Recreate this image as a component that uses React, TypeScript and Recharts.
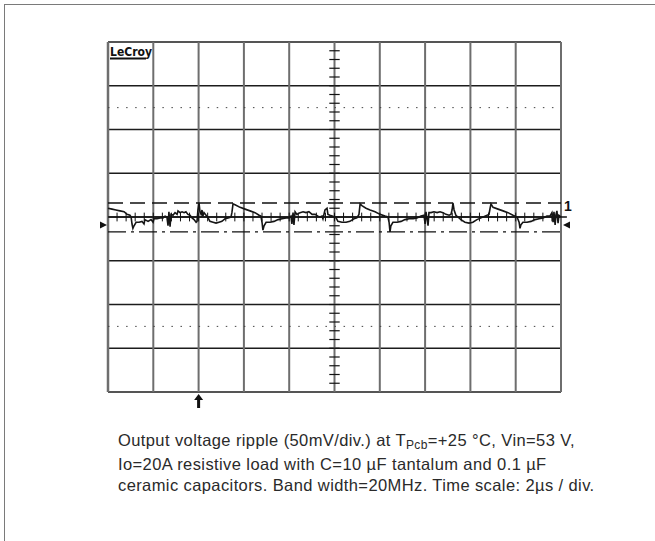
import { LineChart, Line, XAxis, YAxis, ReferenceLine, ReferenceDot } from "recharts"

// scope trace, 2 µs/div horizontally, 50 mV/div vertically
const timeUs = [
  0, 0.18, 0.35, 0.53, 0.71, 0.84, 0.97, 1.02, 1.06, 1.1,
  1.15, 1.24, 1.37, 1.5, 1.59, 1.63, 1.77, 1.9, 1.99, 2.03,
  2.16, 2.3, 2.43, 2.52, 2.6, 2.65, 2.69, 2.74, 2.78, 2.87,
  2.96, 3.05, 3.09, 3.18, 3.27, 3.36, 3.44, 3.53, 3.62, 3.71,
  3.8, 3.89, 3.93, 3.97, 4.02, 4.06, 4.11, 4.15, 4.19, 4.24,
  4.33, 4.42, 4.5, 4.64, 4.77, 4.9, 5.03, 5.17, 5.3, 5.43,
  5.47, 5.52, 5.61, 5.83, 6.05, 6.27, 6.49, 6.67, 6.75, 6.8,
  6.84, 6.89, 6.98, 7.15, 7.33, 7.51, 7.68, 7.86, 7.99, 8.08,
  8.12, 8.17, 8.21, 8.26, 8.34, 8.48, 8.61, 8.74, 8.87, 9.01,
  9.14, 9.27, 9.36, 9.45, 9.49, 9.58, 9.67, 9.71, 9.8, 9.93,
  10.07, 10.15, 10.33, 10.51, 10.68, 10.86, 10.99, 11.08, 11.13, 11.21,
  11.39, 11.57, 11.79, 12.01, 12.23, 12.36, 12.41, 12.45, 12.49, 12.58,
  12.76, 12.94, 13.11, 13.29, 13.47, 13.64, 13.82, 13.95, 14.0, 14.04,
  14.13, 14.17, 14.26, 14.39, 14.53, 14.66, 14.79, 14.92, 15.06, 15.14,
  15.19, 15.23, 15.28, 15.36, 15.45, 15.58, 15.76, 15.94, 16.11, 16.29,
  16.47, 16.64, 16.82, 16.87, 16.91, 17.0, 17.22, 17.44, 17.66, 17.88,
  18.06, 18.15, 18.19, 18.23, 18.32, 18.5, 18.68, 18.85, 19.03, 19.21,
  19.38, 19.51, 19.6, 19.65, 19.69, 19.74, 19.78, 19.82, 19.87, 19.91,
  20.0,
]

const rippleMv = [
  10, 9, 8, 7, 6, 3, 2, 0, -8, -13,
  -10, -6, -6, -5, -8, -3, -5, -3, -6, -2,
  -2, -1, -1, 1, 0, -10, 6, -11, 3, 2,
  5, 3, 7, 5, 6, 5, 6, 3, 2, -1,
  -3, -6, -5, 8, 16, 6, 3, 8, 1, 5,
  2, -1, -5, -6, -7, -6, -5, -2, -1, 0,
  5, 15, 14, 11, 9, 7, 5, 2, 1, -6,
  -15, -10, -6, -6, -5, -3, -2, -1, -1, 1,
  -8, 5, -9, 6, 3, 5, 6, 5, 6, 3,
  3, 1, 0, 1, -2, 8, 10, 3, 2, 1,
  -1, -5, -6, -6, -5, -2, -1, 3, 15, 13,
  10, 8, 6, 3, 1, 0, -6, -17, -10, -6,
  -6, -5, -3, -2, -2, -1, 1, 2, -8, 6,
  -10, 5, 5, 6, 5, 6, 5, 3, 2, 3,
  8, 16, 8, 2, 0, -3, -6, -7, -6, -3,
  -1, 1, 3, 10, 15, 11, 9, 7, 5, 2,
  0, -6, -13, -9, -6, -6, -5, -3, -2, -1,
  1, 1, 5, -6, 6, -9, 3, 7, -7, 2,
  0,
]

const divTimesUs = [0, 2, 4, 6, 8, 10, 12, 14, 16, 18, 20]
const divLevelsMv = [-200, -150, -100, -50, 0, 50, 100, 150, 200]
const dottedLevelsMv = [125, -125]
const upperCursorMv = 16
const lowerCursorMv = -17
const groundMarkerMv = -9
const channelLabelMv = 14
const triggerTimeUs = 4
const channelLabel = "1"
const brand = "LeCroy"

const captionLines = [
  ["Output voltage ripple (50mV/div.) at T", "Pcb", "=+25 °C, Vin=53 V,"],
  ["Io=20A resistive load with C=10 µF tantalum and 0.1 µF"],
  ["ceramic capacitors. Band width=20MHz. Time scale: 2µs / div."],
]

// graticule minor marks along the centre axes (5 per division)
const minorTimesUs = Array.from({ length: 49 }, (_, i) => Math.round((i + 1) * 4) / 10)
const minorLevelsMv = Array.from({ length: 39 }, (_, i) => -190 + i * 10)

const rows = timeUs.map((t, i) => ({ t, v: rippleMv[i] }))

export default function App() {
  return (
    <div style={{ position: "absolute", left: 0, top: 0, width: 655, height: 541, background: "#fff" }}>
      <div style={{ position: "absolute", left: 4, top: 4, width: 651, height: 1, background: "#7a7a7a" }} />
      <div style={{ position: "absolute", left: 4, top: 4, width: 1, height: 537, background: "#7a7a7a" }} />

      <LineChart
        width={655}
        height={541}
        data={rows}
        margin={{ top: 42, right: 94, bottom: 149, left: 108 }}
        style={{ position: "absolute", left: 0, top: 0 }}
      >
        <XAxis dataKey="t" type="number" domain={[0, 20]} hide />
        <YAxis type="number" domain={[-200, 200]} hide />

        {divLevelsMv.map((m) => (
          <ReferenceLine key={"h" + m} y={m} stroke="#1c1c1c" strokeWidth={1.4} />
        ))}
        {divTimesUs.map((t) => (
          <ReferenceLine key={"v" + t} x={t} stroke="#6e6e6e" strokeWidth={t === 0 ? 2.5 : 2} />
        ))}
        {dottedLevelsMv.map((m) => (
          <ReferenceLine key={"d" + m} y={m} stroke="#444" strokeWidth={1} strokeDasharray="1.5 7.56" />
        ))}

        {minorLevelsMv.map((m) => (
          <ReferenceLine
            key={"mt" + m}
            segment={[{ x: 9.77, y: m }, { x: 10.23, y: m }]}
            stroke="#111"
            strokeWidth={1.2}
          />
        ))}
        {minorTimesUs.map((t) => (
          <ReferenceLine
            key={"mh" + t}
            segment={[{ x: t, y: -5 }, { x: t, y: 5 }]}
            stroke="#111"
            strokeWidth={1}
          />
        ))}
        <ReferenceLine
          segment={[{ x: 0, y: 0 }, { x: 20.26, y: 0 }]}
          ifOverflow="visible"
          stroke="#111"
          strokeWidth={1.3}
        />

        <ReferenceLine y={upperCursorMv} stroke="#111" strokeWidth={1.3} strokeDasharray="15 7" />
        <ReferenceLine y={lowerCursorMv} stroke="#111" strokeWidth={1.3} strokeDasharray="18 5 3 5" />

        <Line
          dataKey="v"
          type="linear"
          dot={false}
          stroke="#151515"
          strokeWidth={1.6}
          isAnimationActive={false}
        />

        <ReferenceDot
          x={0}
          y={groundMarkerMv}
          ifOverflow="visible"
          shape={(p: any) => (
            <polygon
              points={`${p.cx - 8},${p.cy - 3.5} ${p.cx - 1},${p.cy} ${p.cx - 8},${p.cy + 3.5}`}
              fill="#111"
            />
          )}
        />
        <ReferenceDot
          x={20}
          y={groundMarkerMv}
          ifOverflow="visible"
          shape={(p: any) => (
            <polygon
              points={`${p.cx + 2},${p.cy} ${p.cx + 9},${p.cy - 3.5} ${p.cx + 9},${p.cy + 3.5}`}
              fill="#111"
            />
          )}
        />
        <ReferenceDot
          x={20}
          y={channelLabelMv}
          ifOverflow="visible"
          shape={(p: any) => (
            <text
              x={p.cx + 3}
              y={p.cy + 6}
              fontFamily="Liberation Sans, Arial, sans-serif"
              fontWeight="bold"
              fontSize={14}
              fill="#111"
            >
              {channelLabel}
            </text>
          )}
        />
        <ReferenceDot
          x={triggerTimeUs}
          y={-200}
          ifOverflow="visible"
          shape={(p: any) => (
            <g fill="#111">
              <polygon points={`${p.cx},${p.cy + 2} ${p.cx - 4.5},${p.cy + 8} ${p.cx + 4.5},${p.cy + 8}`} />
              <rect x={p.cx - 1.5} y={p.cy + 7} width={3} height={9} />
            </g>
          )}
        />
        <ReferenceDot
          x={0}
          y={200}
          ifOverflow="visible"
          shape={(p: any) => (
            <g fill="#111">
              <text
                x={p.cx + 2}
                y={p.cy + 14}
                fontFamily="DejaVu Sans Condensed, DejaVu Sans, sans-serif"
                fontWeight="bold"
                fontSize={12}
                textLength={42}
                lengthAdjust="spacingAndGlyphs"
              >
                {brand}
              </text>
              <rect x={p.cx + 2} y={p.cy + 15.5} width={36} height={2} />
            </g>
          )}
        />
      </LineChart>

      <div
        style={{
          position: "absolute",
          left: 118,
          top: 430,
          width: 530,
          fontFamily: "Liberation Sans, Arial, Helvetica, sans-serif",
          fontSize: 16.5,
          letterSpacing: 0.4,
          lineHeight: "21.5px",
          color: "#2a2a2a",
          whiteSpace: "nowrap",
        }}
      >
        {captionLines.map((line, i) => (
          <div key={i}>
            {line[0]}
            {line.length > 1 && (
              <span style={{ fontSize: 12, position: "relative", top: 3 }}>{line[1]}</span>
            )}
            {line[2]}
          </div>
        ))}
      </div>
    </div>
  )
}
